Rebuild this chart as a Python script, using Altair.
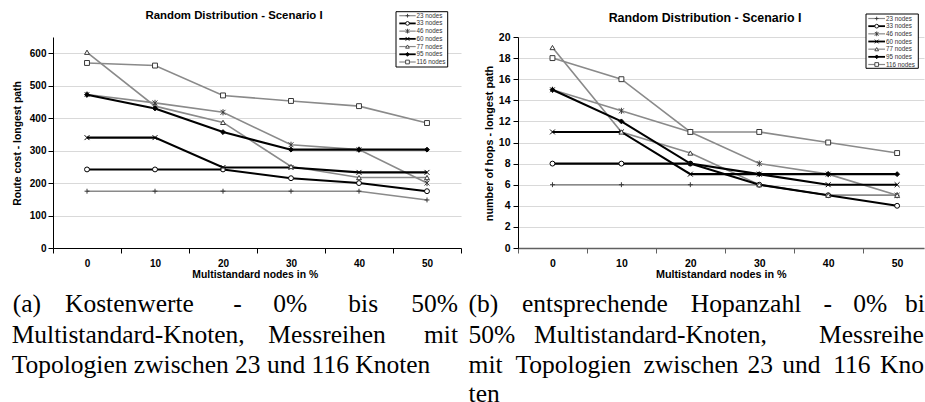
import altair as alt
import pandas as pd

# ---------------- data ----------------
pct = [0, 10, 20, 30, 40, 50]
series = ["23 nodes", "33 nodes", "46 nodes", "60 nodes", "77 nodes", "95 nodes", "116 nodes"]

cost_23 = [175, 175, 175, 175, 175, 148]
cost_33 = [242, 242, 242, 215, 200, 175]
cost_46 = [473, 447, 418, 318, 303, 200]
cost_60 = [340, 340, 248, 248, 233, 233]
cost_77 = [603, 437, 387, 251, 217, 217]
cost_95 = [472, 430, 357, 303, 303, 303]
cost_116 = [570, 562, 470, 453, 437, 385]

hops_23 = [6, 6, 6, 6, 5, 5]
hops_33 = [8, 8, 8, 6, 5, 4]
hops_46 = [15, 13, 11, 8, 7, 5]
hops_60 = [11, 11, 7, 7, 6, 6]
hops_77 = [19, 11, 9, 6, 5, 5]
hops_95 = [15, 12, 8, 7, 7, 7]
hops_116 = [18, 16, 11, 11, 10, 9]

cost_ticks = [0, 100, 200, 300, 400, 500, 600]
hop_ticks = [0, 2, 4, 6, 8, 10, 12, 14, 16, 18, 20]

chart_title = "Random Distribution - Scenario I"
x_title = "Multistandard nodes in %"
cost_title = "Route cost - longest path"
hops_title = "number of hops - longest path"

caption_a = [
    ["(a)", "Kostenwerte", "-", "0%", "bis", "50%"],
    ["Multistandard-Knoten,", "Messreihen", "mit"],
    ["Topologien zwischen 23 und 116 Knoten"],
]
caption_b = [
    ["(b)", "entsprechende", "Hopanzahl", "-", "0%", "bis"],
    ["50%", "Multistandard-Knoten,", "Messreihen"],
    ["mit", "Topologien", "zwischen", "23", "und", "116", "Kno-"],
    ["ten"],
]

# ---------------- layout / style ----------------
SANS = "Liberation Sans"
SERIF = "Liberation Serif"
GRAY = "#8a8a8a"
GRID = "#d9d9d9"
gray_series = ["23 nodes", "46 nodes", "77 nodes", "116 nodes"]
black_series = ["33 nodes", "60 nodes", "95 nodes"]

PLUS = "M-1,0H1M0,-1V1"
XMARK = "M-1,-1L1,1M-1,1L1,-1"
STAR = "M-1,-1L1,1M-1,1L1,-1M0,-1.25V1.25"
shape_scale = alt.Scale(domain=series, range=[PLUS, "circle", STAR, XMARK, "triangle-up", "diamond", "square"])
fill_scale = alt.Scale(domain=series, range=["white", "white", "white", "white", "white", "black", "white"])
stroke_scale = alt.Scale(domain=series, range=["#383838", "#000000", "#383838", "#000000", "#383838", "#000000", "#383838"])

OX_L, OX_R, OY = 53, 518, 37  # plot origins (absolute)
PLOT_H = 211
CANVAS_W = 925

# (x, align) of each caption word, absolute pixels
cap_pos_a = [
    [(12.7, "left"), (65, "left"), (233.3, "left"), (273.3, "left"), (348.3, "left"), (458, "right")],
    [(11.7, "left"), (268.3, "left"), (458, "right")],
    [(11.7, "left")],
]
cap_pos_b = [
    [(468.6, "left"), (522, "left"), (690.8, "left"), (823.5, "left"), (853.3, "left"), (905, "left")],
    [(468.6, "left"), (534, "left"), (819, "left")],
    [(468.6, "left"), (515.5, "left"), (643.6, "left"), (747.6, "left"), (782.2, "left"), (833.2, "left"), (880, "left")],
    [(468.6, "left")],
]
cap_baselines = [311.7, 342.7, 372.7, 401.5]

one = pd.DataFrame({"k": [0]})


def long_df(cols):
    rows = []
    for name, vals in zip(series, cols):
        for p, v in zip(pct, vals):
            rows.append({"series": name, "pct": p, "value": v})
    return pd.DataFrame(rows)


def text_layer(text, x, y, size, font, weight="normal", align="left", color="black", limit=None):
    kw = dict(text=text, font=font, fontSize=size, fontWeight=weight, align=align,
              baseline="alphabetic", color=color)
    if limit is not None:
        kw["limit"] = limit
        kw["ellipsis"] = "\u200b"
    return alt.Chart(one).mark_text(**kw).encode(x=alt.value(x), y=alt.value(y))


def panel(df, s):
    x_enc = alt.X(
        "pct:Q",
        scale=alt.Scale(domain=s["xdom"], nice=False, zero=False),
        axis=alt.Axis(
            values=s["xticks"],
            labelExpr="datum.value % 10 == 0 ? datum.label : ''",
            tickOpacity={"condition": {"test": "datum.value % 10 == 0", "value": 0}, "value": 1},
            grid=False, domainColor=s["xdomain_color"], domainWidth=s["xdomain_w"],
            tickColor=s["xdomain_color"], tickSize=5, tickWidth=1,
            labelFont=SANS, labelFontWeight="bold", labelFontSize=s["lab_fs"], labelColor="black",
            labelPadding=5.7, labelOverlap=False, labelFlush=False,
            title=x_title, titleFont=SANS, titleFontWeight="bold", titleFontSize=s["ax_fs"],
            titleColor="black", titleBaseline="alphabetic", titleAlign="center",
            titleX=s["xt_x"], titleY=29.5,
        ),
    )
    y_enc = alt.Y(
        "value:Q",
        scale=alt.Scale(domain=s["ydom"], nice=False, zero=False),
        axis=alt.Axis(
            values=s["yticks"], grid=True, gridColor=GRID, gridWidth=1,
            domainColor="black", tickColor="black", tickSize=5,
            labelFont=SANS, labelFontWeight="bold", labelFontSize=s["lab_fs"], labelColor="black",
            labelPadding=s["ylab_pad"], labelOverlap=False,
            title=s["ytitle"], titleFont=SANS, titleFontWeight="bold", titleFontSize=s["ax_fs"],
            titleColor="black", titleAngle=270, titleBaseline="alphabetic", titleAlign="center",
            titleX=s["yt_x"], titleY=106,
        ),
    )
    base = alt.Chart(df)
    lines_gray = base.transform_filter(
        alt.FieldOneOfPredicate(field="series", oneOf=gray_series)
    ).mark_line(color=GRAY, strokeWidth=1.6).encode(x=x_enc, y=y_enc, detail="series:N")
    lines_black = base.transform_filter(
        alt.FieldOneOfPredicate(field="series", oneOf=black_series)
    ).mark_line(color="black", strokeWidth=2.1).encode(x=x_enc, y=y_enc, detail="series:N")
    points = base.mark_point(size=24, strokeWidth=1, opacity=1).encode(
        x=x_enc, y=y_enc,
        shape=alt.Shape("series:N", scale=shape_scale, legend=None),
        fill=alt.Fill("series:N", scale=fill_scale, legend=None),
        stroke=alt.Stroke("series:N", scale=stroke_scale, legend=None),
    )
    main = alt.layer(lines_gray, lines_black, points)

    # legend drawn by hand
    leg = s["leg"]
    leg_df = pd.DataFrame({"series": series})
    ly = alt.Y("series:N", scale=alt.Scale(type="point", domain=series, range=[leg["y0"], leg["y1"]], padding=0), axis=None)
    lb = alt.Chart(leg_df)
    box = alt.Chart(one).mark_rect(fill="white", stroke="black", strokeWidth=1).encode(
        x=alt.value(leg["bx0"]), x2=alt.value(leg["bx1"]), y=alt.value(leg["by0"]), y2=alt.value(leg["by1"])
    )
    rg = lb.transform_filter(alt.FieldOneOfPredicate(field="series", oneOf=gray_series)).mark_rule(
        color=GRAY, strokeWidth=1.2).encode(x=alt.value(leg["lx0"]), x2=alt.value(leg["lx1"]), y=ly)
    rk = lb.transform_filter(alt.FieldOneOfPredicate(field="series", oneOf=black_series)).mark_rule(
        color="black", strokeWidth=1.8).encode(x=alt.value(leg["lx0"]), x2=alt.value(leg["lx1"]), y=ly)
    lp = lb.mark_point(size=14, strokeWidth=0.9, opacity=1).encode(
        x=alt.value(leg["mx"]), y=ly,
        shape=alt.Shape("series:N", scale=shape_scale, legend=None),
        fill=alt.Fill("series:N", scale=fill_scale, legend=None),
        stroke=alt.Stroke("series:N", scale=stroke_scale, legend=None),
    )
    lt = lb.mark_text(font=SANS, fontSize=6.3, align="left", baseline="middle", color="#333333").encode(
        x=alt.value(leg["tx"]), y=ly, text="series:N"
    )
    legend = alt.layer(box, rg, rk, lp, lt)

    extras = [text_layer(chart_title, s["title_x"], s["title_y"], s["title_fs"], SANS, "bold", "center")]
    for words, poss, yb in zip(s["caption"], s["cap_pos"], cap_baselines):
        for w, (xa, al) in zip(words, poss):
            room = CANVAS_W - xa
            lim = room if (s["clip_right"] and room < 140) else None
            extras.append(text_layer(w, xa - s["ox"], yb - OY, 25.5, SERIF, "normal", al, limit=lim))
    if s.get("anchor"):
        extras.append(alt.Chart(one).mark_rect(color="white").encode(
            x=alt.value(-s["ox"]), x2=alt.value(-s["ox"] + 1), y=alt.value(-OY), y2=alt.value(-OY + 1)))

    return alt.layer(main, legend, *extras).resolve_scale(y="independent").properties(
        width=s["w"], height=PLOT_H
    )


left_spec = dict(
    ox=OX_L, w=408, xdom=[-5, 55], xticks=[-5, 0, 5, 10, 15, 20, 25, 30, 35, 40, 45, 50, 55],
    ydom=[0, 650], yticks=cost_ticks, ytitle=cost_title,
    xdomain_color="black", xdomain_w=1, lab_fs=10, ax_fs=10.4, ylab_pad=2,
    xt_x=201.7, yt_x=20.5 - OX_L,
    title_x=234 - OX_L, title_y=19.3 - OY, title_fs=11.4,
    leg=dict(bx0=343, bx1=394.7, by0=-25.3, by1=30, y0=-21.3, y1=25, lx0=346.3, lx1=362.7, mx=354.5, tx=363.5),
    caption=caption_a, cap_pos=cap_pos_a, anchor=True, clip_right=False,
)
right_spec = dict(
    ox=OX_R, w=406, xdom=[-5, 53.9], xticks=[-5, 0, 5, 10, 15, 20, 25, 30, 35, 40, 45, 50],
    ydom=[0, 20], yticks=hop_ticks, ytitle=hops_title,
    xdomain_color="#606060", xdomain_w=1.5, lab_fs=10.5, ax_fs=10.8, ylab_pad=3,
    xt_x=202.8, yt_x=492.5 - OX_R,
    title_x=705 - OX_R, title_y=21.5 - OY, title_fs=12.4,
    leg=dict(bx0=348, bx1=400.3, by0=-23, by1=31.3, y0=-18.5, y1=27.5, lx0=350.3, lx1=367, mx=358.7, tx=368),
    caption=caption_b, cap_pos=cap_pos_b, anchor=False, clip_right=True,
)

left = panel(long_df([cost_23, cost_33, cost_46, cost_60, cost_77, cost_95, cost_116]), left_spec)
right = panel(long_df([hops_23, hops_33, hops_46, hops_60, hops_77, hops_95, hops_116]), right_spec)

chart = alt.hconcat(left, right, spacing=57, bounds="flush").properties(
    padding={"left": 0, "top": 0, "right": 0, "bottom": 0}
).configure_view(stroke=None)

chart.save("out.html", embed_options={"renderer": "svg", "actions": False})
